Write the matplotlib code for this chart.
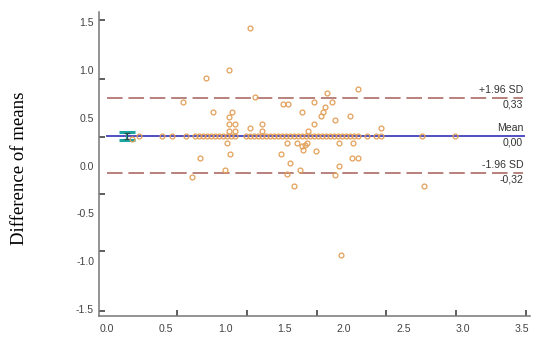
import matplotlib
matplotlib.use("Agg")
import matplotlib.pyplot as plt

# mean of the two methods (x) vs difference (y)
x_off = [1.206, 1.033, 0.835, 1.248, 0.641, 1.484, 1.529, 0.898, 1.057, 1.031,
         1.647, 1.031, 1.079, 1.304, 1.206, 1.031, 1.079, 1.304, 1.699, 0.208,
         1.014, 1.522, 1.600, 1.642, 1.684, 1.035, 1.465, 0.784, 1.543, 0.999,
         1.522, 1.627, 0.717, 1.581, 2.114, 1.857, 1.745, 1.897, 1.838, 1.824,
         1.804, 1.745, 1.920, 2.051, 2.310, 1.667, 1.650, 1.762, 1.954, 2.072,
         2.068, 2.116, 1.956, 1.920, 2.677, 1.973]
y_off = [1.44, 0.995, 0.912, 0.713, 0.669, 0.640, 0.640, 0.556, 0.556, 0.510,
         0.556, 0.437, 0.437, 0.437, 0.389, 0.366, 0.366, 0.366, 0.361, 0.274,
         0.236, 0.236, 0.236, 0.204, 0.236, 0.118, 0.118, 0.076, 0.032, -0.049,
         -0.088, -0.049, -0.123, -0.211, 0.797, 0.755, 0.667, 0.667, 0.615, 0.563,
         0.518, 0.434, 0.473, 0.515, 0.389, 0.215, 0.162, 0.155, 0.232, 0.232,
         0.076, 0.076, -0.005, -0.099, -0.214, -0.935]

# points lying on the mean line
x_on = [0.266, 0.468, 0.548, 0.666,
        0.742, 0.776, 0.809, 0.843, 0.877, 0.911, 0.944, 0.978, 1.012, 1.046, 1.079,
        1.172, 1.206, 1.240, 1.273, 1.307, 1.341, 1.374, 1.408, 1.442, 1.476, 1.509,
        1.543, 1.577, 1.610, 1.644, 1.678, 1.712, 1.745, 1.779, 1.813, 1.847, 1.880,
        1.914, 1.948, 1.981, 2.015, 2.049, 2.083, 2.116,
        2.192, 2.268, 2.310, 2.656, 2.934]

mean_diff = 0.309
upper_loa = 0.706
lower_loa = -0.078
mean_ci = 0.04

line_labels = [("+1.96 SD", "0,33", upper_loa),
               ("Mean", "0,00", mean_diff),
               ("-1.96 SD", "-0,32", lower_loa)]

x_ticks = [0.0, 0.5, 1.0, 1.5, 2.0, 2.5, 3.0, 3.5]
y_ticks = [-1.5, -1.0, -0.5, 0.0, 0.5, 1.0, 1.5]
# the tick marks in the original don't line up with the labels
x_marks = [0.0, 0.590, 1.180, 1.771, 2.352, 2.943, 3.533]
y_marks = [-1.52, -0.894, -0.298, 0.298, 0.904, 1.521]

plt.rcParams["font.family"] = ["Liberation Sans", "DejaVu Sans"]

fig = plt.figure(figsize=(5.5, 3.45), dpi=100)
ax = fig.add_axes([0.18, 0.084, 0.7836, 0.881])

ax.plot([0, 3.51], [upper_loa, upper_loa], color="#b8807c", lw=1.4,
        linestyle=(0, (8, 3)), zorder=2)
ax.plot([0, 3.51], [lower_loa, lower_loa], color="#b8807c", lw=1.4,
        linestyle=(0, (8, 3)), zorder=2)
ax.plot([0, 3.52], [mean_diff, mean_diff], color="#4f4fc0", lw=1.4, zorder=2)

ax.errorbar([0.17], [mean_diff], yerr=[mean_ci], color="#1aa5a0", capsize=6,
            elinewidth=1.5, capthick=2.2, fmt="none", zorder=3)
ax.errorbar([0.17], [mean_diff], yerr=[mean_ci * 0.7], color="#2a4a50", capsize=2.5,
            elinewidth=0.9, capthick=0.9, fmt="none", zorder=3)

mk = dict(linestyle="none", marker="o", markersize=3.5, markerfacecolor="none",
          markeredgecolor="#e3a05a", markeredgewidth=0.9, zorder=4)
ax.plot(x_off, y_off, **mk)
ax.plot(x_on, [mean_diff] * len(x_on), **mk)

for above, below, yv in line_labels:
    ax.annotate(above, (3.51, yv), xytext=(0, 6), textcoords="offset points",
                ha="right", va="center", fontsize=7.6, color="#333333")
    ax.annotate(below, (3.51, yv), xytext=(0, -5), textcoords="offset points",
                ha="right", va="center", fontsize=7.6, color="#333333")

ax.set_xlim(-0.0675, 3.567)
ax.set_ylim(-1.572, 1.604)

ax.set_xticks(x_ticks)
ax.set_xticklabels(["%.1f" % v for v in x_ticks])
ax.set_yticks(y_ticks)
ax.set_yticklabels(["%.1f" % v for v in y_ticks])
ax.set_xticks(x_marks, minor=True)
ax.set_yticks(y_marks, minor=True)
ax.tick_params(which="major", length=0, labelsize=7.6, labelcolor="#444444")
ax.tick_params(axis="x", which="major", pad=5.5)
ax.tick_params(axis="y", which="major", pad=3.5)
ax.tick_params(which="minor", direction="in", length=4, width=1.1, color="#333333")

for s in ["top", "right"]:
    ax.spines[s].set_visible(False)
for s in ["left", "bottom"]:
    ax.spines[s].set_color("#777777")
    ax.spines[s].set_linewidth(1.1)

fig.text(20 / 550, 1 - 168 / 345, "Difference of means", rotation=90,
         ha="center", va="center", fontsize=13.5, family="Liberation Serif")

fig.savefig("out.png", dpi=100)
